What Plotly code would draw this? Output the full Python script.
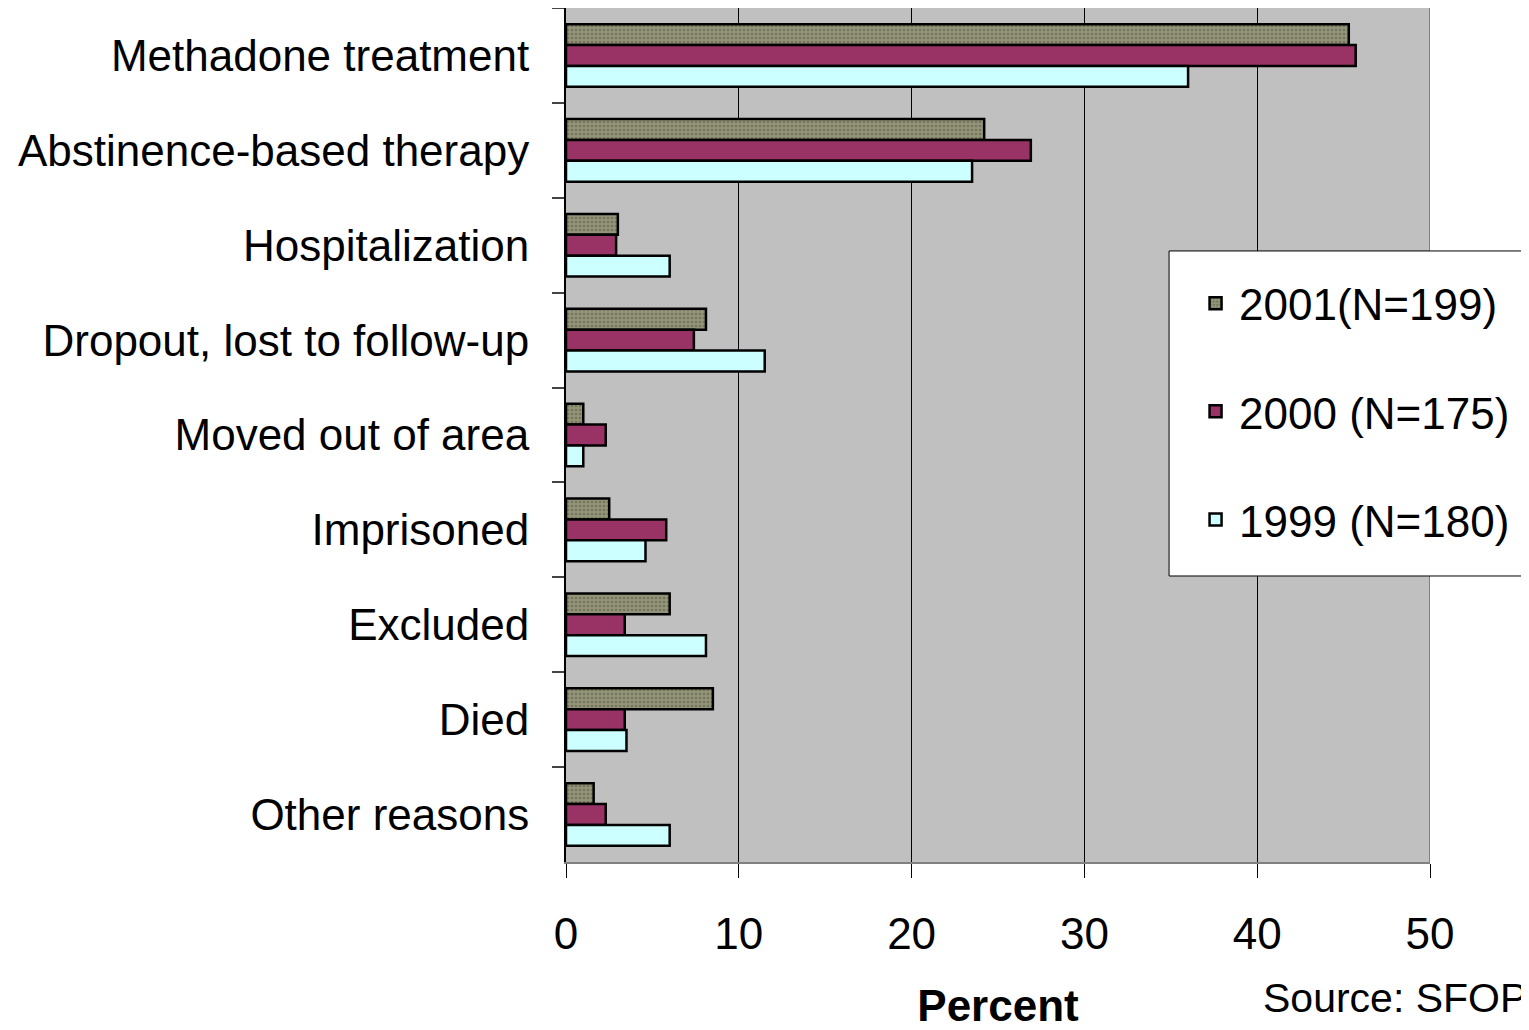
import plotly.graph_objects as go

categories = [
    "Methadone treatment",
    "Abstinence-based therapy",
    "Hospitalization",
    "Dropout, lost to follow-up",
    "Moved out of area",
    "Imprisoned",
    "Excluded",
    "Died",
    "Other reasons",
]
series_names = ["2001(N=199)", "2000 (N=175)", "1999 (N=180)"]
values_2001 = [45.3, 24.2, 3.0, 8.1, 1.0, 2.5, 6.0, 8.5, 1.6]
values_2000 = [45.7, 26.9, 2.9, 7.4, 2.3, 5.8, 3.4, 3.4, 2.3]
values_1999 = [36.0, 23.5, 6.0, 11.5, 1.0, 4.6, 8.1, 3.5, 6.0]
x_ticks = [0, 10, 20, 30, 40, 50]

FONT = "Liberation Sans, Arial, sans-serif"

fig = go.Figure()
fig.add_trace(go.Bar(
    y=categories, x=values_2001, name=series_names[0], orientation="h",
    legendgroup="a",
    marker=dict(color="#8a8a6a", line=dict(color="black", width=2.5),
                pattern=dict(shape=".", size=4, solidity=0.35,
                             fgcolor="#55553f", bgcolor="#94947a")),
))
fig.add_trace(go.Bar(
    y=categories, x=values_2000, name=series_names[1], orientation="h",
    legendgroup="b",
    marker=dict(color="#993366", line=dict(color="black", width=2.5)),
))
fig.add_trace(go.Bar(
    y=categories, x=values_1999, name=series_names[2], orientation="h",
    legendgroup="c",
    marker=dict(color="#ccffff", line=dict(color="black", width=2.5)),
))

# page body has an 8px margin, so the figure is sized to fit the window
fig.update_layout(
    width=1521, height=1022,
    margin=dict(l=558, r=99, t=0, b=168, autoexpand=False),
    paper_bgcolor="white",
    plot_bgcolor="#c0c0c0",
    barmode="group",
    bargap=0.34,
    bargroupgap=0.0,
    font=dict(family=FONT, color="black", size=44),
    showlegend=True,
    legend=dict(
        x=0.7246, y=0.6955, xanchor="left", yanchor="top",
        bgcolor="rgba(0,0,0,0)", borderwidth=0,
        font=dict(size=44, family=FONT, color="black"),
        traceorder="grouped", tracegroupgap=48,
        itemwidth=37,
    ),
)

fig.update_yaxes(
    autorange="reversed",
    showline=True, linecolor="black", linewidth=2,
    ticks="outside", tickson="boundaries", ticklen=12, tickcolor="#444444", tickwidth=2,
    tickfont=dict(size=44, family=FONT, color="black"),
    ticklabelstandoff=26,
    showgrid=False,
)
fig.update_xaxes(
    range=[0, 50], tickvals=x_ticks, ticktext=[str(v) for v in x_ticks],
    showgrid=True, gridcolor="black", gridwidth=1,
    showline=True, linecolor="#808080", linewidth=2,
    ticks="outside", ticklen=14, tickcolor="black", tickwidth=1,
    tickfont=dict(size=44, family=FONT, color="black"),
    ticklabelstandoff=18,
    zeroline=False,
    title=dict(text="<b>Percent</b>", font=dict(size=44, family=FONT, color="black"), standoff=35),
)

# right border of plot area
fig.add_shape(type="line", xref="x", yref="paper", x0=50, x1=50, y0=0, y1=1,
              line=dict(color="#808080", width=2))

# legend box (drawn as a shape so it can be as tall as the original)
fig.add_shape(type="rect", xref="paper", yref="paper", x0=0.698, x1=1.2, y0=0.3349, y1=0.7155,
              fillcolor="white", line=dict(color="black", width=1), layer="above")

fig.add_annotation(
    text="Source: SFOP", xref="paper", yref="paper",
    x=1.1146, y=-0.159, xanchor="right", yanchor="middle",
    showarrow=False, font=dict(size=41, family=FONT, color="black"),
)

fig.write_html("out.html")
